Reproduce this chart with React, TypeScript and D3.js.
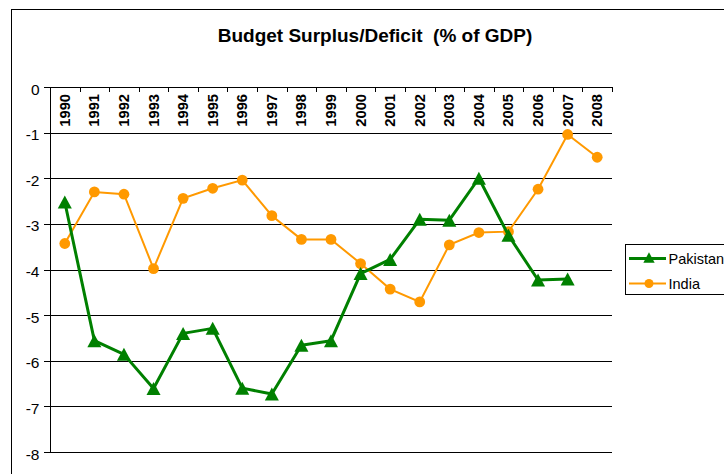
import { useEffect, useRef } from 'react';
import * as d3 from 'd3';

const years = ['1990', '1991', '1992', '1993', '1994', '1995', '1996', '1997', '1998', '1999',
  '2000', '2001', '2002', '2003', '2004', '2005', '2006', '2007', '2008'];

// Pakistan has no 2008 value
const pakistan: (number | null)[] = [-2.52, -5.56, -5.86, -6.61, -5.4, -5.29, -6.6, -6.73, -5.66, -5.56,
  -4.09, -3.78, -2.9, -2.92, -2.0, -3.25, -4.23, -4.21, null];
const india: number[] = [-3.43, -2.3, -2.35, -3.98, -2.44, -2.22, -2.04, -2.82, -3.34, -3.34,
  -3.87, -4.43, -4.71, -3.46, -3.19, -3.17, -2.24, -1.04, -1.54];

const yTicks = [0, -1, -2, -3, -4, -5, -6, -7, -8];

// Excel style triangle marker (a bit wider than equilateral)
const excelTriangle = {
  draw(ctx: any, size: number) {
    const h = Math.sqrt(size);
    ctx.moveTo(0, -h / 2);
    ctx.lineTo(h * 0.54, h / 2);
    ctx.lineTo(-h * 0.54, h / 2);
    ctx.closePath();
  }
};

export default function App() {
  const svgRef = useRef<SVGSVGElement>(null);

  useEffect(() => {
    if (!svgRef.current) return;
    const svg = d3.select(svgRef.current);
    svg.selectAll('*').remove();

    const width = 724;
    const height = 474;
    const font = 'Arial, "Liberation Sans", sans-serif';

    svg.attr('width', width).attr('height', height);

    // outer chart border
    svg.append('rect')
      .attr('x', 11.5).attr('y', 9.5)
      .attr('width', 740).attr('height', 480)
      .attr('fill', 'white').attr('stroke', '#000').attr('stroke-width', 1);

    svg.append('text')
      .attr('x', 375).attr('y', 42)
      .attr('text-anchor', 'middle')
      .style('font-family', font)
      .style('font-size', '19px')
      .style('font-weight', 'bold')
      .attr('xml:space', 'preserve')
      .text('Budget Surplus/Deficit  (% of GDP)');

    const x = d3.scaleBand().domain(years).range([50, 612]);
    const y = d3.scaleLinear().domain([-8, 0]).range([452, 87]);
    const cx = (d: string) => (x(d) || 0) + x.bandwidth() / 2;

    // gridlines
    svg.append('g').selectAll('line')
      .data(yTicks)
      .join('line')
      .attr('x1', 44).attr('x2', 612)
      .attr('y1', d => Math.round(y(d)) + 0.5).attr('y2', d => Math.round(y(d)) + 0.5)
      .attr('stroke', '#000').attr('stroke-width', 1);

    // y axis line
    svg.append('line')
      .attr('x1', 50.5).attr('x2', 50.5)
      .attr('y1', y(0)).attr('y2', y(-8))
      .attr('stroke', '#000');

    svg.append('g').selectAll('text')
      .data(yTicks)
      .join('text')
      .attr('x', 39.5).attr('y', d => y(d) + 7.5)
      .attr('text-anchor', 'end')
      .style('font-family', font)
      .style('font-size', '15.5px')
      .text(d => d3.format('d')(d).replace('−', '-'));

    // x axis at top (value 0) with ticks below
    const xTicks = years.map(d => x(d) || 0).concat([612]);
    svg.append('g').selectAll('line')
      .data(xTicks)
      .join('line')
      .attr('x1', d => Math.round(d) + 0.5).attr('x2', d => Math.round(d) + 0.5)
      .attr('y1', y(0)).attr('y2', y(0) + 5)
      .attr('stroke', '#000');

    svg.append('g').selectAll('text')
      .data(years)
      .join('text')
      .attr('transform', d => `translate(${cx(d) + 5},${y(0) + 7}) rotate(-90)`)
      .attr('text-anchor', 'end')
      .style('font-family', font)
      .style('font-size', '14.7px')
      .style('font-weight', 'bold')
      .text(d => d);

    // India
    const indiaColor = '#ff9900';
    const lineI = d3.line<number>()
      .x((_, i) => cx(years[i]))
      .y(d => y(d));
    svg.append('path')
      .attr('d', lineI(india))
      .attr('fill', 'none')
      .attr('stroke', indiaColor)
      .attr('stroke-width', 2);
    svg.append('g').selectAll('circle')
      .data(india)
      .join('circle')
      .attr('cx', (_, i) => cx(years[i]))
      .attr('cy', d => y(d))
      .attr('r', 5.4)
      .attr('fill', indiaColor);

    // Pakistan
    const pakColor = '#008000';
    const pakPts = pakistan
      .map((v, i) => ({ year: years[i], v }))
      .filter(p => p.v !== null) as { year: string; v: number }[];
    const lineP = d3.line<{ year: string; v: number }>()
      .x(d => cx(d.year))
      .y(d => y(d.v));
    svg.append('path')
      .attr('d', lineP(pakPts))
      .attr('fill', 'none')
      .attr('stroke', pakColor)
      .attr('stroke-width', 3)
      .attr('stroke-linejoin', 'round');
    const tri = d3.symbol().type(excelTriangle as any).size(169);
    svg.append('g').selectAll('path')
      .data(pakPts)
      .join('path')
      .attr('d', tri() || '')
      .attr('transform', d => `translate(${cx(d.year)},${y(d.v)})`)
      .attr('fill', pakColor);

    // legend
    const lg = svg.append('g');
    lg.append('rect')
      .attr('x', 625.5).attr('y', 244.5)
      .attr('width', 120).attr('height', 50)
      .attr('fill', 'white').attr('stroke', '#000');
    const items = [
      { name: 'Pakistan', color: pakColor, w: 3, yy: 258.5, tri: true },
      { name: 'India', color: indiaColor, w: 2, yy: 283.5, tri: false }
    ];
    const triSmall = d3.symbol().type(excelTriangle as any).size(110);
    items.forEach(it => {
      lg.append('line')
        .attr('x1', 629).attr('x2', 666)
        .attr('y1', it.yy).attr('y2', it.yy)
        .attr('stroke', it.color).attr('stroke-width', it.w);
      if (it.tri) {
        lg.append('path')
          .attr('d', triSmall() || '')
          .attr('transform', `translate(649,${it.yy - 1})`)
          .attr('fill', it.color);
      } else {
        lg.append('circle')
          .attr('cx', 649).attr('cy', it.yy).attr('r', 4.5)
          .attr('fill', it.color);
      }
      lg.append('text')
        .attr('x', 668.5).attr('y', it.yy + 5)
        .style('font-family', font)
        .style('font-size', '14.5px')
        .text(it.name);
    });
  }, []);

  return (
    <div style={{ position: 'absolute', left: 0, top: 0, width: 724, height: 474, overflow: 'hidden', background: 'white' }}>
      <svg ref={svgRef} style={{ display: 'block' }}></svg>
    </div>
  );
}
